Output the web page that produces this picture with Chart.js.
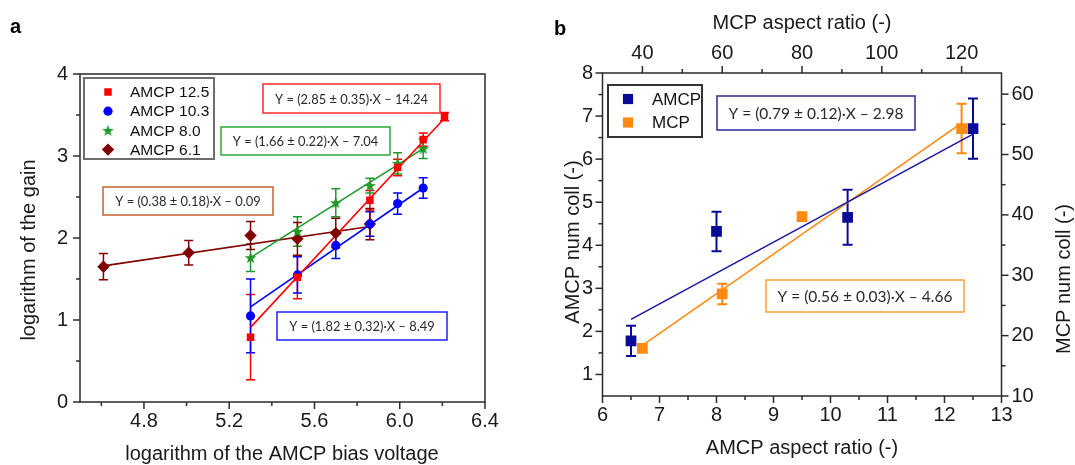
<!DOCTYPE html>
<html><head><meta charset="utf-8">
<script src="https://cdn.jsdelivr.net/npm/chart.js@4.4.1/dist/chart.umd.min.js"></script>
<style>
html,body{margin:0;padding:0;background:#fff;width:1075px;height:465px;overflow:hidden}
#ca{position:absolute;left:0;top:0}
#cb{position:absolute;left:540px;top:0}
</style></head><body>
<canvas id="ca" width="540" height="465"></canvas>
<canvas id="cb" width="535" height="465"></canvas>
<script>
// ================= Panel a data =================
const aXTicks = [4.8, 5.2, 5.6, 6.0, 6.4];
const aXMinor = [4.6, 5.0, 5.4, 5.8, 6.2];
const aYTicks = [0, 1, 2, 3, 4];
const aYMinor = [0.5, 1.5, 2.5, 3.5];

const seriesNamesA = ['AMCP 12.5', 'AMCP 10.3', 'AMCP 8.0', 'AMCP 6.1'];

const amcp125X = [5.30, 5.52, 5.86, 5.99, 6.11, 6.21];
const amcp125Y = [0.79, 1.52, 2.46, 2.86, 3.20, 3.48];
const amcp125Err = [0.52, 0.26, 0.12, 0.10, 0.08, 0.05];

const amcp103X = [5.30, 5.52, 5.70, 5.86, 5.99, 6.11];
const amcp103Y = [1.05, 1.55, 1.91, 2.17, 2.42, 2.61];
const amcp103Err = [0.45, 0.22, 0.16, 0.15, 0.13, 0.125];

const amcp80X = [5.30, 5.52, 5.70, 5.86, 5.99, 6.11];
const amcp80Y = [1.76, 2.08, 2.43, 2.64, 2.91, 3.09];
const amcp80Err = [0.17, 0.18, 0.17, 0.09, 0.13, 0.12];

const amcp61X = [4.61, 5.01, 5.30, 5.52, 5.70, 5.86];
const amcp61Y = [1.65, 1.82, 2.03, 1.99, 2.06, 2.17];
const amcp61Err = [0.16, 0.15, 0.17, 0.20, 0.18, 0.19];

// fitted lines (end points)
const fit125X = [5.30, 6.21], fit125Y = [0.91, 3.46];
const fit103X = [5.30, 6.11], fit103Y = [1.16, 2.61];
const fit80X  = [5.30, 6.11], fit80Y  = [1.76, 3.09];
const fit61X  = [4.61, 5.86], fit61Y  = [1.66, 2.14];

const eqTextA = ['Y = (2.85 ± 0.35)·X – 14.24', 'Y = (1.66 ± 0.22)·X – 7.04',
                 'Y = (0.38 ± 0.18)·X – 0.09', 'Y = (1.82 ± 0.32)·X – 8.49'];

// ================= Panel b data =================
const bXTicks = [6, 7, 8, 9, 10, 11, 12, 13];
const bXMinor = [6.5, 7.5, 8.5, 9.5, 10.5, 11.5, 12.5];
const bYTicks = [1, 2, 3, 4, 5, 6, 7, 8];
const bYMinor = [1.5, 2.5, 3.5, 4.5, 5.5, 6.5, 7.5];
const bX2Ticks = [40, 60, 80, 100, 120];
const bX2Minor = [50, 70, 90, 110];
const bY2Ticks = [10, 20, 30, 40, 50, 60];
const bY2Minor = [15, 25, 35, 45, 55];

const seriesNamesB = ['AMCP', 'MCP'];

const amcpAspect = [6.5, 8.0, 10.3, 12.5];
const amcpColl   = [1.78, 4.32, 4.65, 6.71];
const amcpCollErr = [0.35, 0.46, 0.64, 0.70];

const mcpAspect = [40, 60, 80, 120];
const mcpColl   = [17.9, 26.9, 39.7, 54.3];
const mcpCollErr = [0, 1.7, 0, 4.1];

const fitAmcpX = [6.5, 12.5], fitAmcpY = [2.28, 6.58];
const fitMcpX  = [40, 120],   fitMcpY  = [18.4, 55.2];

const eqTextB = ['Y = (0.79 ± 0.12)·X – 2.98', 'Y = (0.56 ± 0.03)·X – 4.66'];

// ================= styling =================
const FONT = "'Liberation Sans', Arial, Helvetica, sans-serif";
const EQFONT = "Lato, 'Open Sans', sans-serif";
const TXT = '#1a1a1a';
const FRAME = '#2b2b2b';
const RED = '#ff0000', BLUE = '#0000ff', GREEN = '#1f9a2a', WINE = '#800000';
const NAVY = '#0a0a96', ORANGE = '#ff8a12';

function pts(xs, ys) { return xs.map((x, i) => ({ x: x, y: ys[i] })); }

// filled five-point star image for the AMCP 8.0 series
function starImage(color, R) {
  const c = document.createElement('canvas');
  const s = Math.ceil(R * 2 + 2);
  c.width = s; c.height = s;
  const g = c.getContext('2d');
  g.fillStyle = color;
  g.beginPath();
  for (let k = 0; k < 10; k++) {
    const r = (k % 2 === 0) ? R : R * 0.42;
    const ang = -Math.PI / 2 + k * Math.PI / 5;
    const px = s / 2 + r * Math.cos(ang), py = s / 2 + 0.5 + r * Math.sin(ang);
    if (k === 0) g.moveTo(px, py); else g.lineTo(px, py);
  }
  g.closePath(); g.fill();
  return c;
}
const STAR = starImage(GREEN, 6.2);

function drawMarker(ctx, style, radius, color, x, y) {
  ctx.save();
  ctx.fillStyle = color; ctx.strokeStyle = color;
  if (style instanceof HTMLCanvasElement) {
    ctx.drawImage(style, x - style.width / 2, y - style.height / 2);
  } else if (Chart.helpers && Chart.helpers.drawPoint) {
    Chart.helpers.drawPoint(ctx, { pointStyle: style, radius: radius, rotation: 0, borderWidth: 0 }, x, y);
  }
  ctx.restore();
}

function drawErrorBars(chart, capHalf, lw) {
  const ctx = chart.ctx;
  chart.data.datasets.forEach((ds, i) => {
    if (!ds.errors) return;
    const meta = chart.getDatasetMeta(i);
    ctx.save();
    ctx.strokeStyle = ds.borderColor; ctx.lineWidth = lw;
    ds.data.forEach((p, j) => {
      const e = ds.errors[j];
      if (!e) return;
      const x = meta.xScale.getPixelForValue(p.x);
      const y1 = meta.yScale.getPixelForValue(p.y - e);
      const y2 = meta.yScale.getPixelForValue(p.y + e);
      ctx.beginPath();
      ctx.moveTo(x, y1); ctx.lineTo(x, y2);
      ctx.moveTo(x - capHalf, y1); ctx.lineTo(x + capHalf, y1);
      ctx.moveTo(x - capHalf, y2); ctx.lineTo(x + capHalf, y2);
      ctx.stroke();
    });
    ctx.restore();
  });
}

function txt(ctx, s, x, y, font, rot, align, base, color) {
  ctx.save();
  ctx.translate(x, y);
  if (rot) ctx.rotate(rot);
  ctx.font = font; ctx.fillStyle = color || TXT;
  ctx.textAlign = align || 'center'; ctx.textBaseline = base || 'middle';
  ctx.fillText(s, 0, 0);
  ctx.restore();
}

function deco(cfg) {
  return {
    id: 'deco_' + cfg.name,
    beforeDatasetsDraw(chart) { drawErrorBars(chart, cfg.cap, cfg.errW); },
    afterDraw(chart) {
      const ctx = chart.ctx, a = chart.chartArea;
      ctx.save();
      // frame
      ctx.strokeStyle = FRAME; ctx.lineWidth = 1.5;
      ctx.strokeRect(a.left, a.top, a.right - a.left, a.bottom - a.top);
      // tick marks (outward)
      cfg.ticks.forEach(t => {
        const s = chart.scales[t.id];
        const draw = (vals, len) => vals.forEach(v => {
          const p = s.getPixelForValue(v);
          ctx.beginPath();
          if (t.side === 'bottom') { ctx.moveTo(p, a.bottom); ctx.lineTo(p, a.bottom + len); }
          if (t.side === 'top') { ctx.moveTo(p, a.top); ctx.lineTo(p, a.top - len); }
          if (t.side === 'left') { ctx.moveTo(a.left, p); ctx.lineTo(a.left - len, p); }
          if (t.side === 'right') { ctx.moveTo(a.right, p); ctx.lineTo(a.right + len, p); }
          ctx.stroke();
        });
        draw(t.major, 7); draw(t.minor, 4);
      });
      // equation boxes
      ctx.font = '10px ' + EQFONT;
      const eqSize = 10 * cfg.eqWidth / ctx.measureText(cfg.eqs[0].text).width;
      cfg.eqs.forEach(e => {
        ctx.strokeStyle = e.color; ctx.lineWidth = 1.5;
        ctx.strokeRect(e.x0, e.y0, e.x1 - e.x0, e.y1 - e.y0);
        txt(ctx, e.text, (e.x0 + e.x1) / 2, (e.y0 + e.y1) / 2 + 1, eqSize.toFixed(2) + 'px ' + EQFONT, 0, 'center', 'middle', '#2a2a2a');
      });
      // legend
      const L = cfg.legend;
      ctx.strokeStyle = L.border; ctx.lineWidth = 2;
      ctx.strokeRect(L.x0, L.y0, L.x1 - L.x0, L.y1 - L.y0);
      L.items.forEach((it, k) => {
        const y = L.rowY0 + k * L.rowH;
        drawMarker(ctx, it.style, it.radius, it.color, L.mx, y);
        txt(ctx, it.label, L.tx, y + 1, L.font, 0, 'left', 'middle', '#111');
      });
      // axis titles
      cfg.titles.forEach(t => txt(ctx, t.text, t.x, t.y, '20px ' + FONT, t.rot || 0, 'center', 'middle'));
      // panel label
      txt(ctx, cfg.panel.text, cfg.panel.x, cfg.panel.y, 'bold 20px ' + FONT, 0, 'left', 'alphabetic', '#000');
      ctx.restore();
    }
  };
}

function axis(o) {
  return {
    type: 'linear', axis: o.axis, position: o.pos, min: o.min, max: o.max,
    afterBuildTicks: s => { s.ticks = o.ticks.map(v => ({ value: v })); },
    afterFit: s => { if (o.w != null) s.width = o.w; if (o.h != null) s.height = o.h; },
    grid: { display: false, drawTicks: true, tickLength: 7 },
    border: { display: false },
    ticks: { autoSkip: false, maxRotation: 0, minRotation: 0, padding: o.pad, color: TXT,
             font: { family: FONT, size: 20 }, callback: v => o.fmt(v) }
  };
}

// ================= Chart a =================
new Chart(document.getElementById('ca'), {
  type: 'scatter',
  data: {
    datasets: [
      { data: pts(amcp125X, amcp125Y), errors: amcp125Err, pointStyle: 'rect', pointRadius: 5.3, backgroundColor: RED, borderColor: RED, borderWidth: 0 },
      { data: pts(amcp103X, amcp103Y), errors: amcp103Err, pointStyle: 'circle', pointRadius: 4.6, backgroundColor: BLUE, borderColor: BLUE, borderWidth: 0 },
      { data: pts(amcp80X, amcp80Y), errors: amcp80Err, pointStyle: STAR, pointRadius: 6, backgroundColor: GREEN, borderColor: GREEN, borderWidth: 0 },
      { data: pts(amcp61X, amcp61Y), errors: amcp61Err, pointStyle: 'rectRot', pointRadius: 6.2, backgroundColor: WINE, borderColor: WINE, borderWidth: 0 },
      { data: pts(fit125X, fit125Y), showLine: true, pointRadius: 0, borderColor: RED, borderWidth: 1.6 },
      { data: pts(fit103X, fit103Y), showLine: true, pointRadius: 0, borderColor: BLUE, borderWidth: 1.6 },
      { data: pts(fit80X, fit80Y), showLine: true, pointRadius: 0, borderColor: GREEN, borderWidth: 1.6 },
      { data: pts(fit61X, fit61Y), showLine: true, pointRadius: 0, borderColor: WINE, borderWidth: 1.6 }
    ]
  },
  options: {
    responsive: false, animation: false, events: [],
    layout: { padding: { left: 0, top: 74, right: 55, bottom: 0 } },
    plugins: { legend: { display: false }, tooltip: { enabled: false } },
    scales: {
      x: axis({ axis: 'x', pos: 'bottom', min: 4.5, max: 6.4, ticks: aXTicks, h: 63, pad: 0, fmt: v => v.toFixed(1) }),
      y: axis({ axis: 'y', pos: 'left', min: 0, max: 4, ticks: aYTicks, w: 80, pad: 5, fmt: v => String(v) })
    }
  },
  plugins: [deco({
    name: 'a', cap: 4.5, errW: 1.5, eqWidth: 153,
    ticks: [
      { id: 'x', side: 'bottom', major: aXTicks, minor: aXMinor },
      { id: 'y', side: 'left', major: aYTicks, minor: aYMinor }
    ],
    eqs: [
      { text: eqTextA[0], color: '#ff2a2a', x0: 263, y0: 84, x1: 440, y1: 113 },
      { text: eqTextA[1], color: '#2ea63a', x0: 221, y0: 127, x1: 390, y1: 155 },
      { text: eqTextA[2], color: '#c4632f', x0: 103, y0: 187, x1: 273, y1: 215 },
      { text: eqTextA[3], color: '#2020ff', x0: 277, y0: 312, x1: 447, y1: 340 }
    ],
    legend: {
      x0: 84, y0: 78, x1: 214, y1: 159, mx: 108, tx: 130, rowY0: 92, rowH: 19.2,
      font: '15.5px ' + FONT, border: '#6e6e6e',
      items: [
        { label: seriesNamesA[0], style: 'rect', radius: 5.3, color: RED },
        { label: seriesNamesA[1], style: 'circle', radius: 4.6, color: BLUE },
        { label: seriesNamesA[2], style: STAR, radius: 6, color: GREEN },
        { label: seriesNamesA[3], style: 'rectRot', radius: 6.2, color: WINE }
      ]
    },
    titles: [
      { text: 'logarithm of the gain', x: 29, y: 250, rot: -Math.PI / 2 },
      { text: 'logarithm of the AMCP bias voltage', x: 282, y: 454 }
    ],
    panel: { text: 'a', x: 10, y: 33 }
  })]
});

// ================= Chart b =================
new Chart(document.getElementById('cb'), {
  type: 'scatter',
  data: {
    datasets: [
      { data: pts(amcpAspect, amcpColl), errors: amcpCollErr, xAxisID: 'x', yAxisID: 'y', pointStyle: 'rect', pointRadius: 7.6, backgroundColor: NAVY, borderColor: NAVY, borderWidth: 0 },
      { data: pts(mcpAspect, mcpColl), errors: mcpCollErr, xAxisID: 'x2', yAxisID: 'y2', pointStyle: 'rect', pointRadius: 7.6, backgroundColor: ORANGE, borderColor: ORANGE, borderWidth: 0 },
      { data: pts(fitAmcpX, fitAmcpY), xAxisID: 'x', yAxisID: 'y', showLine: true, pointRadius: 0, borderColor: '#1a1aa0', borderWidth: 1.6 },
      { data: pts(fitMcpX, fitMcpY), xAxisID: 'x2', yAxisID: 'y2', showLine: true, pointRadius: 0, borderColor: ORANGE, borderWidth: 1.6 }
    ]
  },
  options: {
    responsive: false, animation: false, events: [],
    layout: { padding: 0 },
    plugins: { legend: { display: false }, tooltip: { enabled: false } },
    scales: {
      x: axis({ axis: 'x', pos: 'bottom', min: 6, max: 13, ticks: bXTicks, h: 69, pad: 0, fmt: v => String(v) }),
      x2: axis({ axis: 'x', pos: 'top', min: 30, max: 130, ticks: bX2Ticks, h: 73, pad: 1, fmt: v => String(v) }),
      y: axis({ axis: 'y', pos: 'left', min: 0.5, max: 8, ticks: bYTicks, w: 62.5, pad: 2.5, fmt: v => String(v) }),
      y2: axis({ axis: 'y', pos: 'right', min: 10, max: 63.5, ticks: bY2Ticks, w: 73.5, pad: 3, fmt: v => String(v) })
    }
  },
  plugins: [deco({
    name: 'b', cap: 5, errW: 2, eqWidth: 175,
    ticks: [
      { id: 'x', side: 'bottom', major: bXTicks, minor: bXMinor },
      { id: 'x2', side: 'top', major: bX2Ticks, minor: bX2Minor },
      { id: 'y', side: 'left', major: bYTicks, minor: bYMinor },
      { id: 'y2', side: 'right', major: bY2Ticks, minor: bY2Minor }
    ],
    eqs: [
      { text: eqTextB[0], color: '#2a2a9a', x0: 177, y0: 96, x1: 375, y1: 130 },
      { text: eqTextB[1], color: '#f5a530', x0: 226, y0: 280, x1: 424, y1: 312 }
    ],
    legend: {
      x0: 68, y0: 85, x1: 162, y1: 137, mx: 88, tx: 112, rowY0: 99, rowH: 23.5,
      font: '17px ' + FONT, border: '#333333',
      items: [
        { label: seriesNamesB[0], style: 'rect', radius: 7.2, color: NAVY },
        { label: seriesNamesB[1], style: 'rect', radius: 7.2, color: ORANGE }
      ]
    },
    titles: [
      { text: 'MCP aspect ratio (-)', x: 262, y: 23 },
      { text: 'AMCP aspect ratio (-)', x: 262, y: 448 },
      { text: 'AMCP num coll (-)', x: 33, y: 242, rot: -Math.PI / 2 },
      { text: 'MCP num coll (-)', x: 524, y: 279, rot: -Math.PI / 2 }
    ],
    panel: { text: 'b', x: 14, y: 35 }
  })]
});
</script>
</body></html>
